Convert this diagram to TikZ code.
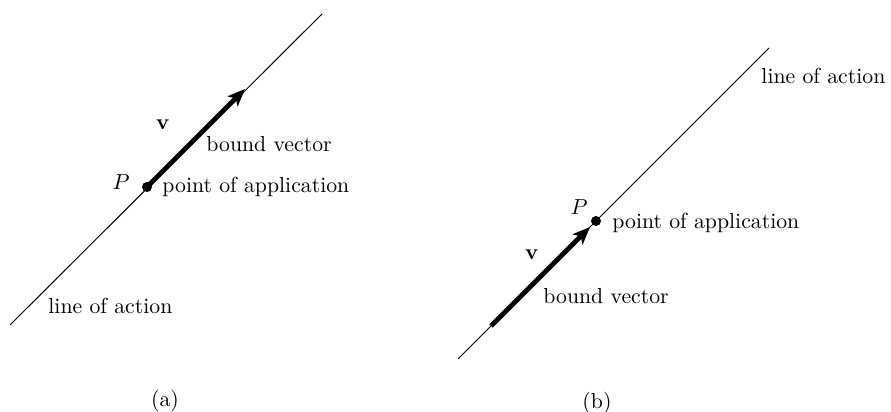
\documentclass[tikz,border=0pt]{standalone}
\usetikzlibrary{arrows.meta}
\begin{document}
\begin{tikzpicture}[x=0.4594pt,y=-0.4594pt,
  actionline/.style={line width=0.45pt},
  boundvec/.style={line width=2.2pt,-{Stealth[length=8pt,width=6.5pt,inset=2pt]}},
  apppoint/.style={circle,fill=black,inner sep=0pt,minimum size=4.6pt},
  lbl/.style={inner sep=0pt,font=\normalsize}]
\useasboundingbox (0,0) rectangle (891,412);
% (a)
\coordinate (a1) at (10,325);
\coordinate (a2) at (322,14);
\coordinate (atip) at (245,89);
\draw[actionline] (a1) -- (a2);
\node[apppoint] (aP) at (147,187) {};
\draw[boundvec] (aP.center) -- (atip);
\node[lbl] (aPl) at (121,182) {$P$};
\node[lbl] (av) at (163,125) {$\mathbf{v}$};
\node[lbl,anchor=west] (abv) at (206,144) {bound vector};
\node[lbl,anchor=west] (apa) at (162,187) {point of application};
\node[lbl,anchor=west] (ala) at (48,306) {line of action};
\node[lbl] (acap) at (165,401) {(a)};
% (b)
\coordinate (b1) at (458,359);
\coordinate (b2) at (769,48);
\coordinate (bstart) at (491,326);
\coordinate (btip) at (590,227);
\draw[actionline] (b1) -- (b2);
\node[apppoint] (bP) at (596,221) {};
\draw[boundvec] (bstart) -- (btip);
\node[lbl] (bPl) at (579,207) {$P$};
\node[lbl] (bv) at (532,255) {$\mathbf{v}$};
\node[lbl,anchor=west] (bbv) at (543,296) {bound vector};
\node[lbl,anchor=west] (bpa) at (612,223) {point of application};
\node[lbl,anchor=west] (bla) at (761,76) {line of action};
\node[lbl] (bcap) at (597,403) {(b)};
\end{tikzpicture}
\end{document}
